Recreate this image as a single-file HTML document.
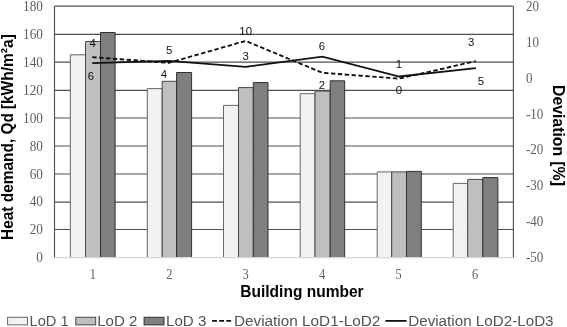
<!DOCTYPE html>
<html><head><meta charset="utf-8"><title>Chart</title>
<style>html,body{margin:0;padding:0;background:#fff;overflow:hidden}svg{display:block;filter:blur(0.28px)}</style>
</head><body>
<svg width="567" height="327" viewBox="0 0 567 327">
<rect width="567" height="327" fill="#fff"/>
<line x1="54.5" y1="229.50" x2="513.4" y2="229.50" stroke="#505050" stroke-width="1.15"/>
<line x1="54.5" y1="202.10" x2="513.4" y2="202.10" stroke="#505050" stroke-width="1.15"/>
<line x1="54.5" y1="174.00" x2="513.4" y2="174.00" stroke="#505050" stroke-width="1.15"/>
<line x1="54.5" y1="146.00" x2="513.4" y2="146.00" stroke="#505050" stroke-width="1.15"/>
<line x1="54.5" y1="118.00" x2="513.4" y2="118.00" stroke="#505050" stroke-width="1.15"/>
<line x1="54.5" y1="90.40" x2="513.4" y2="90.40" stroke="#505050" stroke-width="1.15"/>
<line x1="54.5" y1="62.15" x2="513.4" y2="62.15" stroke="#505050" stroke-width="1.15"/>
<line x1="54.5" y1="34.30" x2="513.4" y2="34.30" stroke="#505050" stroke-width="1.15"/>
<line x1="54.5" y1="6.10" x2="513.4" y2="6.10" stroke="#505050" stroke-width="1.15"/>
<line x1="54.5" y1="6.15" x2="54.5" y2="257.65" stroke="#505050" stroke-width="1.15"/>
<line x1="513.4" y1="6.15" x2="513.4" y2="257.65" stroke="#505050" stroke-width="1.15"/>
<path d="M70.30 257.65 V54.80 H85.50 V257.65" fill="#f2f2f2" stroke="#666666" stroke-width="1"/>
<path d="M85.50 257.65 V41.50 H100.50 V257.65" fill="#bfbfbf" stroke="#484848" stroke-width="1"/>
<path d="M100.50 257.65 V32.50 H115.10 V257.65" fill="#7f7f7f" stroke="#303030" stroke-width="1"/>
<path d="M147.30 257.65 V88.60 H162.20 V257.65" fill="#f2f2f2" stroke="#666666" stroke-width="1"/>
<path d="M162.20 257.65 V81.30 H176.60 V257.65" fill="#bfbfbf" stroke="#484848" stroke-width="1"/>
<path d="M176.60 257.65 V72.50 H191.60 V257.65" fill="#7f7f7f" stroke="#303030" stroke-width="1"/>
<path d="M223.50 257.65 V105.40 H238.50 V257.65" fill="#f2f2f2" stroke="#666666" stroke-width="1"/>
<path d="M238.50 257.65 V87.60 H253.30 V257.65" fill="#bfbfbf" stroke="#484848" stroke-width="1"/>
<path d="M253.30 257.65 V82.60 H268.00 V257.65" fill="#7f7f7f" stroke="#303030" stroke-width="1"/>
<path d="M300.20 257.65 V93.70 H315.00 V257.65" fill="#f2f2f2" stroke="#666666" stroke-width="1"/>
<path d="M315.00 257.65 V91.10 H330.20 V257.65" fill="#bfbfbf" stroke="#484848" stroke-width="1"/>
<path d="M330.20 257.65 V80.80 H344.70 V257.65" fill="#7f7f7f" stroke="#303030" stroke-width="1"/>
<path d="M377.20 257.65 V171.90 H391.70 V257.65" fill="#f2f2f2" stroke="#666666" stroke-width="1"/>
<path d="M391.70 257.65 V171.90 H406.50 V257.65" fill="#bfbfbf" stroke="#484848" stroke-width="1"/>
<path d="M406.50 257.65 V171.40 H421.30 V257.65" fill="#7f7f7f" stroke="#303030" stroke-width="1"/>
<path d="M453.20 257.65 V183.40 H467.70 V257.65" fill="#f2f2f2" stroke="#666666" stroke-width="1"/>
<path d="M467.70 257.65 V179.40 H482.80 V257.65" fill="#bfbfbf" stroke="#484848" stroke-width="1"/>
<path d="M482.80 257.65 V177.60 H497.90 V257.65" fill="#7f7f7f" stroke="#303030" stroke-width="1"/>
<line x1="54.5" y1="257.65" x2="513.4" y2="257.65" stroke="#d6d6d6" stroke-width="1.2"/>
<polyline points="92.20,57.20 168.94,62.80 245.68,40.90 322.42,72.80 399.16,78.60 475.90,61.10" fill="none" stroke="#111" stroke-width="1.85" stroke-dasharray="4.4 2.5"/>
<polyline points="92.20,63.05 168.94,60.90 245.68,66.90 322.42,56.60 399.16,76.50 475.90,68.20" fill="none" stroke="#111" stroke-width="1.8"/>
<text x="92.6" y="47.20" text-anchor="middle" font-family="Liberation Sans, sans-serif" font-size="11.4" fill="#111">4</text>
<text x="90.9" y="79.70" text-anchor="middle" font-family="Liberation Sans, sans-serif" font-size="11.4" fill="#111">6</text>
<text x="169.1" y="54.20" text-anchor="middle" font-family="Liberation Sans, sans-serif" font-size="11.4" fill="#111">5</text>
<text x="164.0" y="77.60" text-anchor="middle" font-family="Liberation Sans, sans-serif" font-size="11.4" fill="#111">4</text>
<text x="245.7" y="35.40" text-anchor="middle" font-family="Liberation Sans, sans-serif" font-size="11.4" fill="#111">10</text>
<text x="245.7" y="60.00" text-anchor="middle" font-family="Liberation Sans, sans-serif" font-size="11.4" fill="#111">3</text>
<text x="321.9" y="49.60" text-anchor="middle" font-family="Liberation Sans, sans-serif" font-size="11.4" fill="#111">6</text>
<text x="322.0" y="88.50" text-anchor="middle" font-family="Liberation Sans, sans-serif" font-size="11.4" fill="#111">2</text>
<text x="399" y="68.20" text-anchor="middle" font-family="Liberation Sans, sans-serif" font-size="11.4" fill="#111">1</text>
<text x="399" y="94.30" text-anchor="middle" font-family="Liberation Sans, sans-serif" font-size="11.4" fill="#111">0</text>
<text x="471.2" y="45.90" text-anchor="middle" font-family="Liberation Sans, sans-serif" font-size="11.4" fill="#111">3</text>
<text x="481.0" y="84.90" text-anchor="middle" font-family="Liberation Sans, sans-serif" font-size="11.4" fill="#111">5</text>
<text transform="translate(42.9,262.35) scale(0.91,1)" text-anchor="end" font-family="Liberation Serif, serif" font-size="14.6" fill="#5e5e5e">0</text>
<text transform="translate(42.9,234.41) scale(0.91,1)" text-anchor="end" font-family="Liberation Serif, serif" font-size="14.6" fill="#5e5e5e">20</text>
<text transform="translate(42.9,206.46) scale(0.91,1)" text-anchor="end" font-family="Liberation Serif, serif" font-size="14.6" fill="#5e5e5e">40</text>
<text transform="translate(42.9,178.52) scale(0.91,1)" text-anchor="end" font-family="Liberation Serif, serif" font-size="14.6" fill="#5e5e5e">60</text>
<text transform="translate(42.9,150.57) scale(0.91,1)" text-anchor="end" font-family="Liberation Serif, serif" font-size="14.6" fill="#5e5e5e">80</text>
<text transform="translate(42.9,122.63) scale(0.91,1)" text-anchor="end" font-family="Liberation Serif, serif" font-size="14.6" fill="#5e5e5e">100</text>
<text transform="translate(42.9,94.68) scale(0.91,1)" text-anchor="end" font-family="Liberation Serif, serif" font-size="14.6" fill="#5e5e5e">120</text>
<text transform="translate(42.9,66.74) scale(0.91,1)" text-anchor="end" font-family="Liberation Serif, serif" font-size="14.6" fill="#5e5e5e">140</text>
<text transform="translate(42.9,38.79) scale(0.91,1)" text-anchor="end" font-family="Liberation Serif, serif" font-size="14.6" fill="#5e5e5e">160</text>
<text transform="translate(42.9,10.85) scale(0.91,1)" text-anchor="end" font-family="Liberation Serif, serif" font-size="14.6" fill="#5e5e5e">180</text>
<text transform="translate(526.0,11.25) scale(0.89,1)" font-family="Liberation Serif, serif" font-size="14.6" fill="#5e5e5e">20</text>
<text transform="translate(526.0,47.18) scale(0.89,1)" font-family="Liberation Serif, serif" font-size="14.6" fill="#5e5e5e">10</text>
<text transform="translate(526.0,82.91) scale(0.89,1)" font-family="Liberation Serif, serif" font-size="14.6" fill="#5e5e5e">0</text>
<text transform="translate(526.0,118.64) scale(0.89,1)" font-family="Liberation Serif, serif" font-size="14.6" fill="#5e5e5e">-10</text>
<text transform="translate(526.0,154.36) scale(0.89,1)" font-family="Liberation Serif, serif" font-size="14.6" fill="#5e5e5e">-20</text>
<text transform="translate(526.0,190.09) scale(0.89,1)" font-family="Liberation Serif, serif" font-size="14.6" fill="#5e5e5e">-30</text>
<text transform="translate(526.0,226.22) scale(0.89,1)" font-family="Liberation Serif, serif" font-size="14.6" fill="#5e5e5e">-40</text>
<text transform="translate(526.0,262.25) scale(0.89,1)" font-family="Liberation Serif, serif" font-size="14.6" fill="#5e5e5e">-50</text>
<text transform="translate(92.74,278.6) scale(0.85,1)" text-anchor="middle" font-family="Liberation Serif, serif" font-size="14.6" fill="#5e5e5e">1</text>
<text transform="translate(169.22,278.6) scale(0.85,1)" text-anchor="middle" font-family="Liberation Serif, serif" font-size="14.6" fill="#5e5e5e">2</text>
<text transform="translate(245.71,278.6) scale(0.85,1)" text-anchor="middle" font-family="Liberation Serif, serif" font-size="14.6" fill="#5e5e5e">3</text>
<text transform="translate(322.19,278.6) scale(0.85,1)" text-anchor="middle" font-family="Liberation Serif, serif" font-size="14.6" fill="#5e5e5e">4</text>
<text transform="translate(398.68,278.6) scale(0.85,1)" text-anchor="middle" font-family="Liberation Serif, serif" font-size="14.6" fill="#5e5e5e">5</text>
<text transform="translate(475.16,278.6) scale(0.85,1)" text-anchor="middle" font-family="Liberation Serif, serif" font-size="14.6" fill="#5e5e5e">6</text>
<text x="240.3" y="296.8" textLength="123.3" lengthAdjust="spacingAndGlyphs" font-family="Liberation Sans, sans-serif" font-weight="bold" font-size="15.8" fill="#000">Building number</text>
<text transform="translate(13.2,240.0) rotate(-90)" textLength="126.9" lengthAdjust="spacingAndGlyphs" font-family="Liberation Sans, sans-serif" font-weight="bold" font-size="15.8" fill="#000">Heat demand, Qd</text>
<text transform="translate(13.2,109.3) rotate(-90)" textLength="75.2" lengthAdjust="spacingAndGlyphs" font-family="Liberation Sans, sans-serif" font-weight="bold" font-size="15.8" fill="#000">[kWh/m²a]</text>
<text transform="translate(552.5,85.0) rotate(90)" textLength="71.1" lengthAdjust="spacingAndGlyphs" font-family="Liberation Sans, sans-serif" font-weight="bold" font-size="15.8" fill="#000">Deviation</text>
<text transform="translate(552.5,161.3) rotate(90)" textLength="24.8" lengthAdjust="spacingAndGlyphs" font-family="Liberation Sans, sans-serif" font-weight="bold" font-size="15.8" fill="#000">[%]</text>
<rect x="7.6" y="317.3" width="19.9" height="7.6" fill="#f2f2f2" stroke="#666666" stroke-width="1"/>
<rect x="75.8" y="317.3" width="19.9" height="7.6" fill="#bfbfbf" stroke="#484848" stroke-width="1"/>
<rect x="144.1" y="317.3" width="19.9" height="7.6" fill="#7f7f7f" stroke="#303030" stroke-width="1"/>
<text x="29.5" y="325.7" textLength="39.2" lengthAdjust="spacingAndGlyphs" font-family="Liberation Sans, sans-serif" font-size="15.4" fill="#525252">LoD 1</text>
<text x="97.2" y="325.7" textLength="40.2" lengthAdjust="spacingAndGlyphs" font-family="Liberation Sans, sans-serif" font-size="15.4" fill="#525252">LoD 2</text>
<text x="166.0" y="325.7" textLength="40.3" lengthAdjust="spacingAndGlyphs" font-family="Liberation Sans, sans-serif" font-size="15.4" fill="#525252">LoD 3</text>
<text x="233.9" y="325.7" textLength="146.5" lengthAdjust="spacingAndGlyphs" font-family="Liberation Sans, sans-serif" font-size="15.4" fill="#525252">Deviation LoD1-LoD2</text>
<text x="408.2" y="325.7" textLength="145.4" lengthAdjust="spacingAndGlyphs" font-family="Liberation Sans, sans-serif" font-size="15.4" fill="#525252">Deviation LoD2-LoD3</text>
<line x1="212.1" y1="320.9" x2="231.2" y2="320.9" stroke="#111" stroke-width="1.85" stroke-dasharray="4.8 2.3"/>
<line x1="385.4" y1="320.9" x2="406.5" y2="320.9" stroke="#111" stroke-width="1.8"/>
</svg>
</body></html>
